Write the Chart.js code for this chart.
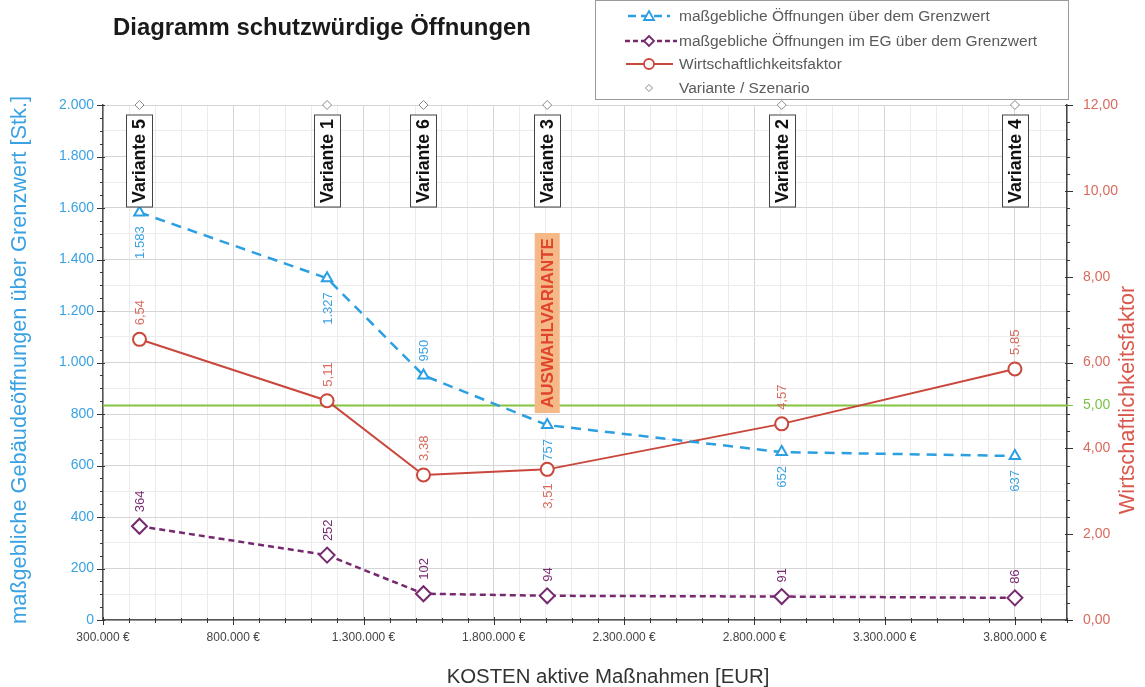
<!DOCTYPE html>
<html><head><meta charset="utf-8">
<script src="https://cdn.jsdelivr.net/npm/chart.js@4.4.0/dist/chart.umd.min.js"></script>
<style>html,body{margin:0;padding:0;background:#fff;}#wrap{position:relative;width:1145px;height:687px;}</style>
</head><body><div id="wrap"><canvas id="c" width="1145" height="687"></canvas></div>
<script>
// ---- data ----
const kosten = [440000, 1160000, 1530000, 2005000, 2905000, 3800000];
const varianten = ['Variante 5', 'Variante 1', 'Variante 6', 'Variante 3', 'Variante 2', 'Variante 4'];
const oeffnungen = [1583, 1327, 950, 757, 652, 637];
const oeffnungenEG = [364, 252, 102, 94, 91, 86];
const wirtschaftlichkeit = [6.54, 5.11, 3.38, 3.51, 4.57, 5.85];
const variantenLinie = [2000, 2000, 2000, 2000, 2000, 2000];
const grenzFaktor = 5.0;
const auswahlIndex = 3;
const auswahlText = 'AUSWAHLVARIANTE';
const xMin = 300000, xMax = 4000000;
const seriesNames = [
  'maßgebliche Öffnungen über dem Grenzwert',
  'maßgebliche Öffnungen im EG über dem Grenzwert',
  'Wirtschaftlichkeitsfaktor',
  'Variante / Szenario'
];
const titleText = 'Diagramm schutzwürdige Öffnungen';
const yTitle = 'maßgebliche Gebäudeöffnungen über Grenzwert [Stk.]';
const y2Title = 'Wirtschaftlichkeitsfaktor';
const xTitle = 'KOSTEN aktive Maßnahmen [EUR]';

// ---- styles ----
const FONT = "'Liberation Sans', Arial, sans-serif";
const BLUE = '#2b9fe2', PURPLE = '#76296e', RED = '#c9473c', GREEN = '#86c440';
const BLUE_T = '#3aa2e2', RED_T = '#d86a5e', PURPLE_T = '#7a2c72';
// label placement: true = below point
const labelBelow = [
  [true, true, false, true, true, true],
  [false, false, false, false, false, false],
  [false, false, false, true, false, false]
];

const fmtInt = v => String(Math.round(v)).replace(/\B(?=(\d{3})+(?!\d))/g, '.');
const fmtDec = v => v.toFixed(2).replace('.', ',');
const near = (a, b) => Math.abs(a - b) < 1e-6;

function fitSize(ctx, text, weight, targetW, base) {
  ctx.font = weight + ' ' + base + 'px ' + FONT;
  const w = ctx.measureText(text).width;
  return base * targetW / w;
}
function fitFont(ctx, text, weight, targetW, base) {
  return weight + ' ' + fitSize(ctx, text, weight, targetW, base).toFixed(2) + 'px ' + FONT;
}

const pts = arr => kosten.map((x, i) => ({x: x, y: arr[i]}));

const custom = {
  id: 'custom',
  afterDatasetsDraw(chart) {
    const ctx = chart.ctx;
    const xs = chart.scales.x, ys = chart.scales.y, y2 = chart.scales.y2;
    ctx.save();
    // Variante boxes
    kosten.forEach((k, i) => {
      const px = Math.round(xs.getPixelForValue(k)) + 0.5;
      const top = 115, bot = 207, w = 26;
      ctx.fillStyle = '#fff';
      ctx.fillRect(px - w / 2, top, w, bot - top);
      ctx.strokeStyle = '#444'; ctx.lineWidth = 1;
      ctx.strokeRect(px - w / 2, top, w, bot - top);
      ctx.save();
      ctx.translate(px, (top + bot) / 2);
      ctx.rotate(-Math.PI / 2);
      ctx.font = fitFont(ctx, varianten[i], 'bold', 84, 14);
      ctx.fillStyle = '#111'; ctx.textAlign = 'center'; ctx.textBaseline = 'middle';
      ctx.fillText(varianten[i], 0, 1);
      ctx.restore();
    });
    // Auswahl box
    {
      const px = xs.getPixelForValue(kosten[auswahlIndex]);
      const top = 233, bot = 413, w = 25;
      ctx.fillStyle = '#f5b887';
      ctx.fillRect(px - w / 2, top, w, bot - top);
      ctx.save();
      ctx.translate(px, (top + bot) / 2);
      ctx.rotate(-Math.PI / 2);
      ctx.font = fitFont(ctx, auswahlText, 'bold', 170, 15);
      ctx.fillStyle = '#e0452c'; ctx.textAlign = 'center'; ctx.textBaseline = 'middle';
      ctx.fillText(auswahlText, 0, 1);
      ctx.restore();
    }
    // data labels
    const series = [[oeffnungen, ys, BLUE_T, fmtInt], [oeffnungenEG, ys, PURPLE_T, fmtInt], [wirtschaftlichkeit, y2, RED_T, fmtDec]];
    ctx.font = '13px ' + FONT;
    series.forEach((s, si) => {
      s[0].forEach((v, i) => {
        const px = xs.getPixelForValue(kosten[i]);
        const py = s[1].getPixelForValue(v);
        const below = labelBelow[si][i];
        const gap = 14;
        ctx.save();
        ctx.translate(px + 1, below ? py + gap : py - gap);
        ctx.rotate(-Math.PI / 2);
        ctx.fillStyle = s[2];
        ctx.textAlign = below ? 'right' : 'left';
        ctx.textBaseline = 'middle';
        ctx.fillText(s[3](v), 0, 0);
        ctx.restore();
      });
    });
    ctx.restore();
  },
  afterDraw(chart) {
    const ctx = chart.ctx;
    const xs = chart.scales.x, ys = chart.scales.y, y2 = chart.scales.y2;
    const ca = chart.chartArea;
    ctx.save();
    // tick marks
    ctx.lineWidth = 1;
    ys.ticks.forEach(t => {
      const y = Math.round(ys.getPixelForValue(t.value)) + 0.5;
      const major = t.value % 200 === 0;
      ctx.strokeStyle = '#333';
      ctx.beginPath(); ctx.moveTo(ca.left - (major ? 6 : 3), y); ctx.lineTo(ca.left + (major ? 2 : 0), y); ctx.stroke();
    });
    y2.ticks.forEach(t => {
      const y = Math.round(y2.getPixelForValue(t.value)) + 0.5;
      const isG = near(t.value, grenzFaktor);
      const major = near(t.value % 2, 0) || isG;
      ctx.strokeStyle = isG ? GREEN : '#333';
      ctx.beginPath(); ctx.moveTo(ca.right - (major ? 2 : 0), y); ctx.lineTo(ca.right + (major ? 6 : 3), y); ctx.stroke();
    });
    xs.ticks.forEach(t => {
      const x = Math.round(xs.getPixelForValue(t.value)) + 0.5;
      const major = (t.value - xMin) % 500000 === 0;
      ctx.strokeStyle = '#333';
      ctx.beginPath(); ctx.moveTo(x, ca.bottom - (major ? 3 : 2)); ctx.lineTo(x, ca.bottom + (major ? 5 : 3)); ctx.stroke();
    });
    // title
    ctx.fillStyle = '#1a1a1a';
    ctx.font = fitFont(ctx, titleText, 'bold', 418, 20);
    ctx.textAlign = 'left'; ctx.textBaseline = 'alphabetic';
    ctx.fillText(titleText, 113, 35);
    // axis titles
    const axSize = fitSize(ctx, yTitle, 'normal', 528, 18);
    ctx.save();
    ctx.translate(20, 360); ctx.rotate(-Math.PI / 2);
    ctx.font = 'normal ' + axSize.toFixed(2) + 'px ' + FONT;
    ctx.fillStyle = BLUE_T; ctx.textAlign = 'center'; ctx.textBaseline = 'middle';
    ctx.fillText(yTitle, 0, 0);
    ctx.restore();
    ctx.save();
    ctx.translate(1128, 400); ctx.rotate(-Math.PI / 2);
    ctx.font = 'normal ' + axSize.toFixed(2) + 'px ' + FONT;
    ctx.fillStyle = '#d9584c'; ctx.textAlign = 'center'; ctx.textBaseline = 'middle';
    ctx.fillText(y2Title, 0, 0);
    ctx.restore();
    ctx.font = fitFont(ctx, xTitle, 'normal', 323, 17);
    ctx.fillStyle = '#333'; ctx.textAlign = 'center'; ctx.textBaseline = 'middle';
    ctx.fillText(xTitle, 608, 677);
    // legend
    ctx.fillStyle = '#fff';
    ctx.fillRect(595.5, 0.5, 473, 99);
    ctx.strokeStyle = '#9a9a9a'; ctx.lineWidth = 1;
    ctx.strokeRect(595.5, 0.5, 473, 99);
    const rows = [16, 41, 64, 88];
    const lx = 649;
    ctx.setLineDash([8, 5]); ctx.strokeStyle = BLUE; ctx.lineWidth = 2.5;
    ctx.beginPath(); ctx.moveTo(628, rows[0]); ctx.lineTo(670, rows[0]); ctx.stroke();
    ctx.setLineDash([]);
    ctx.fillStyle = '#fff'; ctx.lineWidth = 1.8;
    ctx.beginPath(); ctx.moveTo(lx, rows[0] - 5); ctx.lineTo(lx + 5, rows[0] + 4); ctx.lineTo(lx - 5, rows[0] + 4); ctx.closePath(); ctx.fill(); ctx.stroke();
    ctx.setLineDash([5, 3]); ctx.strokeStyle = PURPLE; ctx.lineWidth = 2.5;
    ctx.beginPath(); ctx.moveTo(625, rows[1]); ctx.lineTo(677, rows[1]); ctx.stroke();
    ctx.setLineDash([]); ctx.lineWidth = 1.8;
    ctx.beginPath(); ctx.moveTo(lx, rows[1] - 5); ctx.lineTo(lx + 5, rows[1]); ctx.lineTo(lx, rows[1] + 5); ctx.lineTo(lx - 5, rows[1]); ctx.closePath(); ctx.fill(); ctx.stroke();
    ctx.strokeStyle = RED; ctx.lineWidth = 2;
    ctx.beginPath(); ctx.moveTo(626, rows[2]); ctx.lineTo(673, rows[2]); ctx.stroke();
    ctx.lineWidth = 1.8;
    ctx.beginPath(); ctx.arc(lx, rows[2], 5, 0, Math.PI * 2); ctx.fill(); ctx.stroke();
    ctx.strokeStyle = '#888'; ctx.lineWidth = 1;
    ctx.beginPath(); ctx.moveTo(lx, rows[3] - 3.5); ctx.lineTo(lx + 3.5, rows[3]); ctx.lineTo(lx, rows[3] + 3.5); ctx.lineTo(lx - 3.5, rows[3]); ctx.closePath(); ctx.fill(); ctx.stroke();
    ctx.fillStyle = '#5a5a5a'; ctx.textAlign = 'left'; ctx.textBaseline = 'middle';
    ctx.font = fitFont(ctx, seriesNames[1], 'normal', 358, 13);
    seriesNames.forEach((n, i) => ctx.fillText(n, 679, rows[i] + 1));
    ctx.restore();
  }
};

Chart.defaults.font.family = FONT;

new Chart(document.getElementById('c'), {
  type: 'line',
  data: {
    datasets: [
      {
        label: seriesNames[0], data: pts(oeffnungen), yAxisID: 'y', order: 2,
        borderColor: BLUE, borderWidth: 2.5, borderDash: [10, 7],
        pointStyle: 'triangle', pointRadius: 6, pointBackgroundColor: '#fff',
        pointBorderColor: BLUE, pointBorderWidth: 2, clip: false
      },
      {
        label: seriesNames[1], data: pts(oeffnungenEG), yAxisID: 'y', order: 2,
        borderColor: PURPLE, borderWidth: 2.5, borderDash: [6, 4],
        pointStyle: 'rectRot', pointRadius: 7.5, pointBackgroundColor: '#fff',
        pointBorderColor: PURPLE, pointBorderWidth: 2, clip: false
      },
      {
        label: seriesNames[2], data: pts(wirtschaftlichkeit), yAxisID: 'y2', order: 2,
        borderColor: RED, borderWidth: 2,
        pointStyle: 'circle', pointRadius: 6.5, pointBackgroundColor: '#fff',
        pointBorderColor: RED, pointBorderWidth: 2, clip: false
      },
      {
        label: seriesNames[3], data: pts(variantenLinie), yAxisID: 'y', order: 1,
        showLine: false, pointStyle: 'rectRot', pointRadius: 4.5,
        pointBackgroundColor: '#fff', pointBorderColor: '#888', pointBorderWidth: 1, clip: false
      },
      {
        label: 'Grenzwert', data: [{x: xMin, y: grenzFaktor}, {x: xMax, y: grenzFaktor}], yAxisID: 'y2', order: 10,
        borderColor: GREEN, borderWidth: 2, pointRadius: 0
      }
    ]
  },
  options: {
    responsive: false, animation: false, devicePixelRatio: 1,
    layout: {padding: {top: 105, left: 0, right: 0, bottom: 0}},
    plugins: {legend: {display: false}, title: {display: false}, tooltip: {enabled: false}},
    scales: {
      x: {
        type: 'linear', min: xMin, max: xMax,
        afterFit: s => { s.height = 67; },
        border: {display: true, color: '#555', width: 1.5},
        grid: {
          drawTicks: false,
          color: c => ((c.tick.value - xMin) % 500000 === 0 ? '#d5d5d5' : '#ebebeb')
        },
        ticks: {
          stepSize: 100000, autoSkip: false, maxRotation: 0, minRotation: 0, padding: 10,
          color: '#444', font: {size: 12},
          callback: v => ((v - xMin) % 500000 === 0 && v < xMax ? fmtInt(v) + ' €' : '')
        }
      },
      y: {
        position: 'left', min: 0, max: 2000,
        afterFit: s => { s.width = 103; },
        border: {display: true, color: '#555', width: 1.5},
        grid: {
          drawTicks: false,
          color: c => (c.tick.value % 200 === 0 ? '#d5d5d5' : (c.tick.value % 100 === 0 ? '#ececec' : 'rgba(0,0,0,0)'))
        },
        ticks: {
          stepSize: 50, autoSkip: false, padding: 9, color: BLUE_T, font: {size: 14},
          callback: v => (v % 200 === 0 ? fmtInt(v) : '')
        }
      },
      y2: {
        position: 'right', min: 0, max: 12,
        afterFit: s => { s.width = 78; },
        afterBuildTicks: s => {
          const t = [];
          for (let i = 0; i <= 30; i++) t.push({value: Math.round(i * 4) / 10});
          t.push({value: grenzFaktor});
          t.sort((a, b) => a.value - b.value);
          s.ticks = t;
        },
        border: {display: true, color: '#444', width: 1.5},
        grid: {drawOnChartArea: false, drawTicks: false},
        ticks: {
          autoSkip: false, padding: 16, font: {size: 14},
          color: c => (near(c.tick.value, grenzFaktor) ? '#7cc04a' : RED_T),
          callback: v => ((near(v % 2, 0) || near(v, grenzFaktor)) ? fmtDec(v) : '')
        }
      }
    }
  },
  plugins: [custom]
});
</script>
</body></html>
